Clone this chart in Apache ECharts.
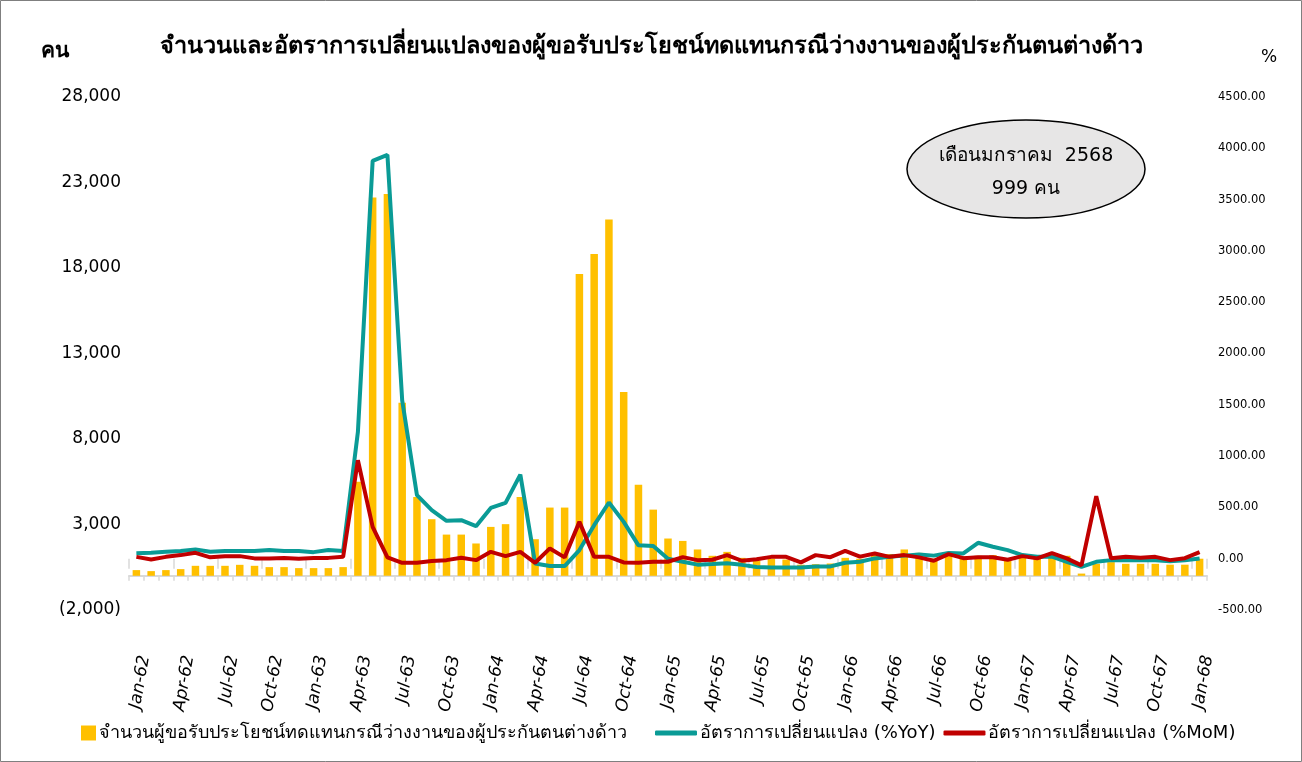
<!DOCTYPE html>
<html>
<head>
<meta charset="utf-8">
<script src="https://cdn.jsdelivr.net/npm/echarts@6/dist/echarts.min.js"></script>
<style>
html,body{margin:0;padding:0;background:#fff;}
#c{width:1302px;height:762px;}
</style>
</head>
<body>
<div id="c"></div>
<script>
const categories = [
 'Jan-62','Feb-62','Mar-62','Apr-62','May-62','Jun-62','Jul-62','Aug-62','Sep-62','Oct-62','Nov-62','Dec-62',
 'Jan-63','Feb-63','Mar-63','Apr-63','May-63','Jun-63','Jul-63','Aug-63','Sep-63','Oct-63','Nov-63','Dec-63',
 'Jan-64','Feb-64','Mar-64','Apr-64','May-64','Jun-64','Jul-64','Aug-64','Sep-64','Oct-64','Nov-64','Dec-64',
 'Jan-65','Feb-65','Mar-65','Apr-65','May-65','Jun-65','Jul-65','Aug-65','Sep-65','Oct-65','Nov-65','Dec-65',
 'Jan-66','Feb-66','Mar-66','Apr-66','May-66','Jun-66','Jul-66','Aug-66','Sep-66','Oct-66','Nov-66','Dec-66',
 'Jan-67','Feb-67','Mar-67','Apr-67','May-67','Jun-67','Jul-67','Aug-67','Sep-67','Oct-67','Nov-67','Dec-67',
 'Jan-68'
];
const persons = [
 333, 274, 333, 391, 584, 584, 584, 642, 584, 508, 508, 450,
 450, 450, 508, 5500, 22130, 22330, 10120, 4610, 3310, 2410, 2410, 1890,
 2860, 3020, 4610, 2140, 3990, 3990, 17650, 18820, 20830, 10750, 5330, 3870,
 2180, 2040, 1540, 1170, 1400, 1050, 900, 1000, 950, 650, 680, 720,
 1050, 1000, 1270, 1270, 1540, 1340, 1000, 1240, 1150, 1170, 1210, 950,
 1050, 1000, 1300, 1170, 130, 700, 800, 700, 700, 700, 650, 650,
 999
];
const yoy = [
 52, 57, 67, 74, 90, 67, 74, 74, 74, 84, 74, 74,
 64, 84, 74, 1234, 3877, 3936, 1543, 619, 473, 369, 375, 317,
 495, 544, 820, -46, -72, -72, 84, 327, 548, 359, 130, 123,
 0, -30, -58, -52, -45, -60, -80, -85, -85, -85, -75, -75,
 -40, -30, 3, 18, 30, 40, 30, 55, 51, 155, 116, 84,
 35, 18, 20, -30, -79, -30, -14, -14, -16, -16, -25, -16,
 3
];
const mom = [
 18, -7, 18, 35, 57, 13, 25, 25, 3, 3, 8, 0,
 8, 8, 18, 959, 310, 13, -40, -40, -23, -14, 9, -14,
 67, 25, 67, -40, 100, 13, 359, 18, 18, -36, -40, -30,
 -30, 15, -14, -10, 35, -20, -5, 18, 18, -36, 35, 15,
 77, 20, 51, 18, 35, 13, -20, 45, 5, 13, 15, -10,
 25, 3, 55, 3, -65, 609, 5, 20, 10, 18, -14, 5,
 65
];
const leftTicks = {min: -2000, max: 28000, interval: 5000};
const rightTicks = {min: -500, max: 4500, interval: 500};
const titleText = 'จำนวนและอัตราการเปลี่ยนแปลงของผู้ขอรับประโยชน์ทดแทนกรณีว่างงานของผู้ประกันตนต่างด้าว';
const seriesNames = ['จำนวนผู้ขอรับประโยชน์ทดแทนกรณีว่างงานของผู้ประกันตนต่างด้าว', 'อัตราการเปลี่ยนแปลง (%YoY)', 'อัตราการเปลี่ยนแปลง (%MoM)'];
const noteLines = ['เดือนมกราคม  2568', '999 คน'];

const FONT = '"DejaVu Sans", "Noto Sans", sans-serif';
const chart = echarts.init(document.getElementById('c'), null, {renderer: 'canvas'});
function fmtLeft(v){
  const s = Math.abs(v).toLocaleString('en-US');
  return v < 0 ? '(' + s + ')' : s;
}
chart.setOption({
  backgroundColor: '#ffffff',
  animation: false,
  title: {
    text: titleText, left: 'center', top: 30,
    textStyle: {fontSize: 23.5, fontWeight: 'bold', color: '#000', fontFamily: FONT}
  },
  grid: {left: 129, right: 95, top: 97, bottom: 152},
  legend: [
    {data: [seriesNames[0]], left: 76, top: 719, itemWidth: 15, itemHeight: 15, icon: 'rect', itemGap: 4,
     textStyle: {fontSize: 18, color: '#000', fontFamily: FONT, padding: [0, 0, 0, -2]}},
    {data: [seriesNames[1], seriesNames[2]], left: 650, top: 719, itemWidth: 42, itemHeight: 5, icon: 'roundRect', itemGap: 8,
     textStyle: {fontSize: 18, color: '#000', fontFamily: FONT, padding: [0, 0, 0, -2]}}
  ],
  xAxis: [
    {type: 'category', data: categories, position: 'bottom',
     axisLine: {onZero: true, lineStyle: {color: '#d9d9d9', width: 2}},
     axisTick: {show: true, interval: 0, length: 5, lineStyle: {color: '#d9d9d9', width: 1.5}},
     axisLabel: {interval: 2, rotate: 80, margin: 44, fontSize: 17, color: '#000', fontFamily: FONT, fontStyle: 'italic', verticalAlign: 'top'}},
    {type: 'category', data: categories, position: 'top',
     axisLine: {show: false, onZero: true},
     axisTick: {show: true, inside: true, interval: 2, length: 10, lineStyle: {color: '#d9d9d9', width: 1.5}},
     axisLabel: {show: false}}
  ],
  yAxis: [
    {type: 'value', min: leftTicks.min, max: leftTicks.max, interval: leftTicks.interval,
     axisLine: {show: false}, axisTick: {show: false}, splitLine: {show: false},
     axisLabel: {formatter: fmtLeft, fontSize: 17, color: '#000', margin: 8, fontFamily: FONT}},
    {type: 'value', min: rightTicks.min, max: rightTicks.max, interval: rightTicks.interval, position: 'right',
     axisLine: {show: false}, axisTick: {show: false}, splitLine: {show: false},
     axisLabel: {formatter: v => v.toFixed(2), fontSize: 11.5, color: '#000', margin: 11, fontFamily: FONT}}
  ],
  series: [
    {name: seriesNames[0], type: 'bar', data: persons, xAxisIndex: 0, yAxisIndex: 0, barWidth: 7.5,
     itemStyle: {color: '#FFC000'}},
    {name: seriesNames[1], type: 'line', data: yoy, xAxisIndex: 0, yAxisIndex: 1, symbol: 'none',
     lineStyle: {color: '#0A9B96', width: 4}, itemStyle: {color: '#0A9B96'}},
    {name: seriesNames[2], type: 'line', data: mom, xAxisIndex: 0, yAxisIndex: 1, symbol: 'none',
     lineStyle: {color: '#C00000', width: 4}, itemStyle: {color: '#C00000'}}
  ],
  graphic: [
    {type: 'rect', shape: {x: 0.5, y: 0.5, width: 1301, height: 761}, style: {fill: 'none', stroke: '#7f7f7f', lineWidth: 1}, silent: true},
    {type: 'text', left: 41, top: 41, style: {text: 'คน', fill: '#000', font: 'bold 21px ' + FONT}},
    {type: 'text', left: 1261, top: 49, style: {text: '%', fill: '#000', font: '17px ' + FONT}},
    {type: 'ellipse', shape: {cx: 1026, cy: 169, rx: 119, ry: 49}, style: {fill: '#e7e6e6', stroke: '#000', lineWidth: 1.5}, z: 10},
    {type: 'text', x: 1026, y: 156, z: 11, style: {text: noteLines[0], font: '19px ' + FONT, fill: '#000', align: 'center', verticalAlign: 'middle'}},
    {type: 'text', x: 1026, y: 189, z: 11, style: {text: noteLines[1], font: '19px ' + FONT, fill: '#000', align: 'center', verticalAlign: 'middle'}}
  ]
});
</script>
</body>
</html>
